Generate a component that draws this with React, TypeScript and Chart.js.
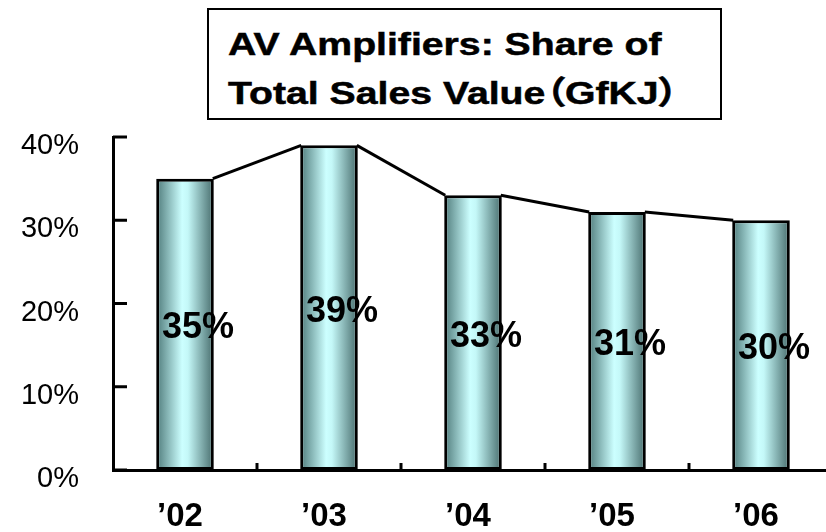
import React, { useEffect, useRef } from "react";
import { Chart, registerables } from "chart.js";

Chart.register(...registerables);

const years = ["’02", "’03", "’04", "’05", "’06"];
const shareValues = [35, 39, 33, 31, 30];
const yTicks = [0, 10, 20, 30, 40];
const titleLines = ["AV Amplifiers: Share of", "Total Sales Value（GfKJ）"];

const FONT = '"Liberation Sans", Arial, "Noto Sans CJK JP", sans-serif';
const BAR_PCT = 0.4;

const overlayPlugin = {
  id: "overlayPlugin",
  afterDatasetsDraw(chart: any) {
    const ctx = chart.ctx as CanvasRenderingContext2D;
    const meta = chart.getDatasetMeta(0);
    const bars = meta.data;
    const { left, bottom } = chart.chartArea;
    const ys = chart.scales.y;
    const xs = chart.scales.x;
    ctx.save();
    ctx.strokeStyle = "#000";
    ctx.lineWidth = 3;
    ctx.lineCap = "butt";
    // series lines between bar tops
    for (let i = 0; i < bars.length - 1; i++) {
      const a = bars[i].getProps(["x", "y", "width"], true);
      const b = bars[i + 1].getProps(["x", "y", "width"], true);
      ctx.beginPath();
      ctx.moveTo(a.x + a.width / 2 - 1, a.y);
      ctx.lineTo(b.x - b.width / 2 + 1, b.y);
      ctx.stroke();
    }
    // inward y ticks
    ys.ticks.forEach((_t: any, i: number) => {
      const py = ys.getPixelForTick(i);
      ctx.beginPath();
      ctx.moveTo(left, py);
      ctx.lineTo(left + 14, py);
      ctx.stroke();
    });
    // inward x ticks at category boundaries
    for (let i = 1; i < years.length; i++) {
      const px = (xs.getPixelForTick(i - 1) + xs.getPixelForTick(i)) / 2;
      ctx.beginPath();
      ctx.moveTo(px, bottom);
      ctx.lineTo(px, bottom - 7);
      ctx.stroke();
    }
    // value labels
    ctx.fillStyle = "#000";
    ctx.font = `bold 36px ${FONT}`;
    ctx.textAlign = "center";
    ctx.textBaseline = "middle";
    bars.forEach((bar: any, i: number) => {
      const p = bar.getProps(["x", "y", "base"], true);
      ctx.fillText(shareValues[i] + "%", p.x + 13, (p.y + p.base) / 2 + 4);
    });
    ctx.restore();
  },
};

export default function App() {
  const canvasRef = useRef<HTMLCanvasElement | null>(null);

  useEffect(() => {
    const canvas = canvasRef.current;
    if (!canvas) return;
    const chart = new Chart(canvas, {
      type: "bar",
      data: {
        labels: years,
        datasets: [
          {
            data: shareValues,
            backgroundColor: (c: any) => {
              const ch = c.chart;
              const xs = ch.scales && ch.scales.x;
              if (!xs || c.dataIndex === undefined || !ch.chartArea) return "#a8dede";
              const cx = xs.getPixelForValue(c.dataIndex);
              const w = (xs.width / years.length) * BAR_PCT;
              const g = ch.ctx.createLinearGradient(cx - w / 2, 0, cx + w / 2, 0);
              g.addColorStop(0, "#4f7b7b");
              g.addColorStop(0.45, "#ccffff");
              g.addColorStop(0.55, "#c4f8f8");
              g.addColorStop(1, "#476c6c");
              return g;
            },
            borderColor: "#000",
            borderWidth: 3,
            borderSkipped: false,
            barPercentage: BAR_PCT,
            categoryPercentage: 1,
          },
        ],
      },
      options: {
        responsive: false,
        animation: false,
        layout: { padding: { top: 137, right: 0, bottom: 0, left: 0 } },
        plugins: {
          legend: { display: false },
          tooltip: { enabled: false },
          title: { display: false },
        },
        scales: {
          x: {
            offset: true,
            grid: { display: false, drawTicks: false },
            border: { display: true, color: "#000", width: 3 },
            ticks: {
              color: "#000",
              font: { family: FONT, size: 33, weight: "bold" },
              padding: 27,
              labelOffset: -5,
              maxRotation: 0,
              autoSkip: false,
            },
            afterFit: (s: any) => {
              s.height = 62;
            },
          },
          y: {
            min: 0,
            max: 40,
            grid: { display: false, drawTicks: false },
            border: { display: true, color: "#000", width: 3 },
            afterBuildTicks: (s: any) => {
              s.ticks = yTicks.map((v) => ({ value: v }));
            },
            ticks: {
              color: "#000",
              font: { family: FONT, size: 29 },
              padding: 34,
              labelOffset: 9,
              callback: (v: any) => v + "%",
            },
            afterFit: (s: any) => {
              s.width = 113;
            },
          },
        },
      },
      plugins: [overlayPlugin],
    });
    return () => chart.destroy();
  }, []);

  const lineStyle = (top: number): React.CSSProperties => ({
    position: "absolute",
    left: 228,
    top,
    height: 49,
    lineHeight: "49px",
    fontFamily: FONT,
    fontWeight: "bold",
    fontSize: 32,
    color: "#000",
    whiteSpace: "nowrap",
    fontFeatureSettings: '"palt" 1',
    WebkitTextStroke: "0.5px #000",
    transform: "scaleX(1.225)",
    transformOrigin: "left center",
  });

  return (
    <div style={{ position: "absolute", left: 0, top: 0, width: 826, height: 532, overflow: "hidden", background: "#fff" }}>
      <canvas ref={canvasRef} width={833} height={532} style={{ display: "block", position: "absolute", left: 0, top: 0 }} />
      <div
        style={{
          position: "absolute",
          left: 207,
          top: 8,
          width: 515,
          height: 112,
          border: "2px solid #000",
          boxSizing: "border-box",
          background: "#fff",
        }}
      />
      <div style={lineStyle(20)}>{titleLines[0]}</div>
      <div style={lineStyle(69)}>{titleLines[1]}</div>
    </div>
  );
}
